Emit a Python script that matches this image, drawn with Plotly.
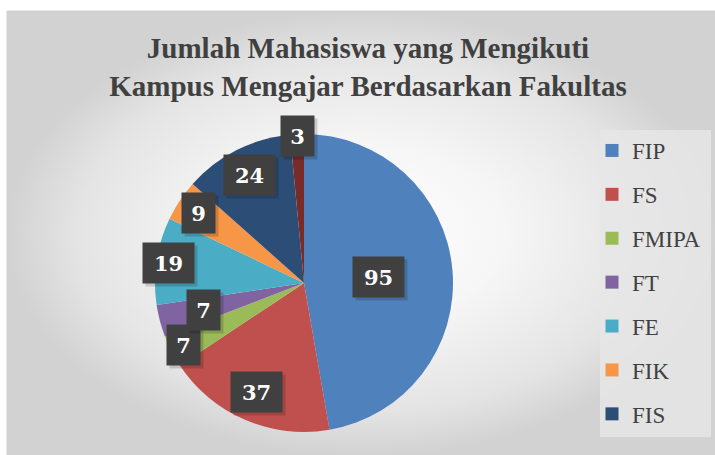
import plotly.graph_objects as go
import math

# ---- data ----
labels = ["FIP", "FS", "FMIPA", "FT", "FE", "FIK", "FIS", "Lainnya"]
values = [95, 37, 7, 7, 19, 9, 24, 3]
legend_labels = ["FIP", "FS", "FMIPA", "FT", "FE", "FIK", "FIS"]
title_text = "Jumlah Mahasiswa yang Mengikuti<br>Kampus Mengajar Berdasarkan Fakultas"

# ---- style ----
colors = ["#4F81BD", "#C0504D", "#9BBB59", "#8064A2", "#4BACC6", "#F79646", "#2C4D75", "#772C2A"]
label_radius = [0.50, 0.80, 0.91, 0.70, 0.92, 0.85, 0.81, 0.99]
W, H = 715, 455
cx, cy, R = 304, 283, 149  # pie centre / radius in pixels

fig = go.Figure()

# background frame with radial gradient
fx0, fy0, fx1, fy1 = 7, 11, 716, 456
fig.add_trace(go.Scatter(
    x=[fx0, fx1, fx1, fx0, fx0], y=[fy0, fy0, fy1, fy1, fy0],
    mode="lines", fill="toself", line=dict(color="#d0d0d0", width=1),
    fillgradient=dict(type="radial",
                      colorscale=[[0, "#ffffff"], [0.4, "#f6f6f6"], [0.8, "#e4e4e4"], [1, "#d2d2d2"]]),
    hoverinfo="skip", showlegend=False))

# legend box background
lx0, ly0, lx1, ly1 = 600, 130, 711, 437
fig.add_trace(go.Scatter(
    x=[lx0, lx1, lx1, lx0, lx0], y=[ly0, ly0, ly1, ly1, ly0],
    mode="lines", fill="toself", fillcolor="rgba(230,230,230,0.85)", line=dict(width=0),
    hoverinfo="skip", showlegend=False))

# legend entries (dummy traces)
for i, lab in enumerate(legend_labels):
    fig.add_trace(go.Scatter(
        x=[None], y=[None], mode="markers", name=lab,
        marker=dict(symbol="square", size=13, color=colors[i]),
        legendgroup=lab, showlegend=True))

fig.add_trace(go.Pie(
    labels=labels, values=values, sort=False, direction="clockwise", rotation=0,
    marker=dict(colors=colors, line=dict(width=0)),
    textinfo="none", hoverinfo="label+value", showlegend=False,
    domain=dict(x=[(cx - R) / W, (cx + R) / W], y=[1 - (cy + R) / H, 1 - (cy - R) / H])))

# data labels
total = sum(values)
cum = 0
annotations = []
for v, rf in zip(values, label_radius):
    mid = (cum + v / 2) / total * 2 * math.pi
    cum += v
    px = cx + rf * R * math.sin(mid)
    py = cy - rf * R * math.cos(mid)
    txt = str(v)
    wbox = 19 if len(txt) == 1 else 37
    # shadow
    annotations.append(dict(
        x=px + 3, y=py + 3, xref="x", yref="y", text=" ", showarrow=False,
        width=wbox, height=26, borderpad=7, bgcolor="rgba(0,0,0,0.16)",
        font=dict(size=22)))
    annotations.append(dict(
        x=px, y=py, xref="x", yref="y", text="<b>%s</b>" % txt, showarrow=False,
        width=wbox, height=26, borderpad=7, bgcolor="#404040",
        font=dict(family="DejaVu Serif, serif", size=21, color="#ffffff")))

fig.update_layout(
    width=W, height=H,
    margin=dict(l=0, r=0, t=0, b=0),
    paper_bgcolor="#ffffff", plot_bgcolor="rgba(0,0,0,0)",
    xaxis=dict(range=[0, W], visible=False, fixedrange=True),
    yaxis=dict(range=[H, 0], visible=False, fixedrange=True),
    title=dict(text="<b>%s</b>" % title_text, x=368 / W, xanchor="center", y=1 - 58 / H, yanchor="top",
               font=dict(family="Liberation Serif, Times New Roman, serif", size=29, color="#404040")),
    legend=dict(x=592 / W, y=1 - 129 / H, xanchor="left", yanchor="top",
                bgcolor="rgba(0,0,0,0)", borderwidth=0,
                font=dict(family="Liberation Serif, serif", size=23, color="#404040"),
                tracegroupgap=11, itemwidth=30),
    annotations=annotations,
    showlegend=True,
)

fig.write_html("out.html", config={"displayModeBar": False},
               post_script="document.body.style.margin='0px';")
